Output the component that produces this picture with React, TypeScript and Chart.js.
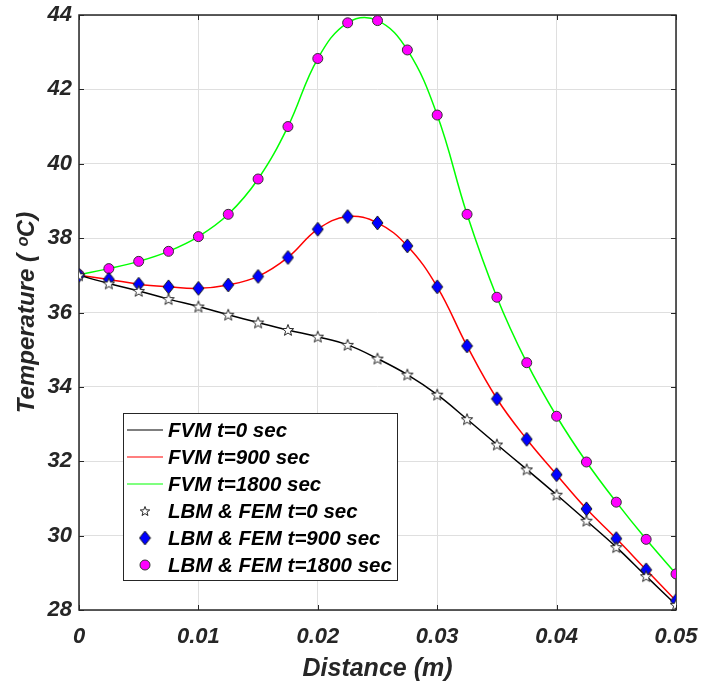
import React, { useEffect, useRef } from 'react';
import { Chart, registerables } from 'chart.js';

Chart.register(...registerables);

// ---------- data ----------
const distance = [
  0, 0.0025, 0.005, 0.0075, 0.01, 0.0125, 0.015, 0.0175, 0.02, 0.0225, 0.025,
  0.0275, 0.03, 0.0325, 0.035, 0.0375, 0.04, 0.0425, 0.045, 0.0475, 0.05,
];
const temp0 = [
  37.0, 36.78, 36.58, 36.36, 36.16, 35.94, 35.73, 35.53, 35.35, 35.13, 34.76,
  34.33, 33.79, 33.13, 32.45, 31.78, 31.1, 30.4, 29.69, 28.91, 28.14,
];
const temp900 = [
  37.0, 36.89, 36.76, 36.69, 36.65, 36.74, 36.97, 37.48, 38.24, 38.58, 38.41,
  37.79, 36.69, 35.1, 33.68, 32.59, 31.64, 30.72, 29.92, 29.08, 28.25,
];
const temp1800 = [
  37.02, 37.18, 37.375, 37.645, 38.04, 38.64, 39.59, 41.0, 42.83, 43.79, 43.85,
  43.06, 41.31, 38.64, 36.41, 34.65, 33.21, 31.98, 30.9, 29.9, 28.97,
];
const seriesLabels = [
  'FVM t=0 sec',
  'FVM t=900 sec',
  'FVM t=1800 sec',
  'LBM & FEM t=0 sec',
  'LBM & FEM t=900 sec',
  'LBM & FEM t=1800 sec',
];
const xTicks = [0, 0.01, 0.02, 0.03, 0.04, 0.05];
const xTickLabels = ['0', '0.01', '0.02', '0.03', '0.04', '0.05'];
const yTicks = [28, 30, 32, 34, 36, 38, 40, 42, 44];
const yTickLabels = ['28', '30', '32', '34', '36', '38', '40', '42', '44'];

const FONT = '"Liberation Sans", Arial, Helvetica, sans-serif';
const AXIS_COLOR = '#262626';

function makeDiamond(): HTMLCanvasElement {
  const c = document.createElement('canvas');
  c.width = 13;
  c.height = 16;
  const g = c.getContext('2d')!;
  g.beginPath();
  g.moveTo(6.5, 1);
  g.lineTo(12, 8);
  g.lineTo(6.5, 15);
  g.lineTo(1, 8);
  g.closePath();
  g.fillStyle = '#0000ff';
  g.fill();
  g.strokeStyle = '#1a1a1a';
  g.lineWidth = 1;
  g.stroke();
  return c;
}

function makeStar(size: number): HTMLCanvasElement {
  const c = document.createElement('canvas');
  c.width = size;
  c.height = size;
  const g = c.getContext('2d')!;
  const cx = size / 2;
  const cy = size / 2 + 0.5;
  const R = size / 2 - 1;
  const r = R * 0.42;
  g.beginPath();
  for (let i = 0; i < 10; i++) {
    const rad = i % 2 === 0 ? R : r;
    const a = -Math.PI / 2 + (i * Math.PI) / 5;
    const px = cx + rad * Math.cos(a);
    const py = cy + rad * Math.sin(a);
    if (i === 0) g.moveTo(px, py);
    else g.lineTo(px, py);
  }
  g.closePath();
  g.fillStyle = '#ffffff';
  g.fill();
  g.strokeStyle = '#262626';
  g.lineWidth = 1;
  g.stroke();
  return c;
}

export default function App() {
  const ref = useRef<HTMLCanvasElement | null>(null);

  useEffect(() => {
    if (!ref.current) return;
    const diamond = makeDiamond();
    const star = makeStar(14);
    const starSmall = makeStar(12);

    const pts = (ys: number[]) => distance.map((x, i) => ({ x, y: ys[i] }));

    const framePlugin = {
      id: 'frame',
      beforeDatasetsDraw(chart: any) {
        const { ctx, chartArea } = chart;
        const { left, right, top, bottom } = chartArea;
        const xs = chart.scales.x;
        const ys = chart.scales.y;
        ctx.save();
        ctx.strokeStyle = AXIS_COLOR;
        ctx.lineWidth = 1;
        const tl = 5;
        xTicks.forEach((v) => {
          const px = Math.round(xs.getPixelForValue(v)) + 0.5;
          ctx.beginPath();
          ctx.moveTo(px, top);
          ctx.lineTo(px, top + tl);
          ctx.moveTo(px, bottom);
          ctx.lineTo(px, bottom - tl);
          ctx.stroke();
        });
        yTicks.forEach((v) => {
          const py = Math.round(ys.getPixelForValue(v)) + 0.5;
          ctx.beginPath();
          ctx.moveTo(left, py);
          ctx.lineTo(left + tl, py);
          ctx.moveTo(right, py);
          ctx.lineTo(right - tl, py);
          ctx.stroke();
        });
        ctx.lineWidth = 1.5;
        ctx.strokeRect(left, top, right - left, bottom - top);
        ctx.restore();
      },
      afterDatasetsDraw(chart: any) {
        const { ctx } = chart;
        const bx = 123;
        const by = 413;
        const bw = 274;
        const bh = 167;
        ctx.save();
        ctx.fillStyle = '#ffffff';
        ctx.fillRect(bx, by, bw, bh);
        ctx.strokeStyle = AXIS_COLOR;
        ctx.lineWidth = 1;
        ctx.strokeRect(bx + 0.5, by + 0.5, bw, bh);
        const lineColors = ['#000000', '#ff0000', '#00ff00'];
        ctx.font = `italic bold 20.5px ${FONT}`;
        ctx.textBaseline = 'middle';
        ctx.textAlign = 'left';
        for (let i = 0; i < 6; i++) {
          const ry = by + 17 + i * 27;
          if (i < 3) {
            ctx.strokeStyle = lineColors[i];
            ctx.lineWidth = 1.2;
            ctx.beginPath();
            ctx.moveTo(bx + 4, ry);
            ctx.lineTo(bx + 40, ry);
            ctx.stroke();
          } else if (i === 3) {
            ctx.drawImage(starSmall, bx + 22 - starSmall.width / 2, ry - starSmall.height / 2);
          } else if (i === 4) {
            ctx.drawImage(diamond, bx + 22 - diamond.width / 2, ry - diamond.height / 2);
          } else {
            ctx.beginPath();
            ctx.arc(bx + 22, ry, 5, 0, Math.PI * 2);
            ctx.fillStyle = '#ff00ff';
            ctx.fill();
            ctx.strokeStyle = '#333333';
            ctx.lineWidth = 1;
            ctx.stroke();
          }
          ctx.fillStyle = '#000000';
          ctx.fillText(seriesLabels[i], bx + 45, ry + 1);
        }
        ctx.restore();
      },
    };

    const lineBase = {
      showLine: true,
      pointRadius: 0,
      borderWidth: 1.5,
      tension: 0.4,
      fill: false,
      order: 2,
    };
    const markerBase = {
      showLine: false,
      order: 1,
    };

    const chart = new Chart(ref.current, {
      type: 'scatter',
      data: {
        datasets: [
          { ...lineBase, label: seriesLabels[0], data: pts(temp0), borderColor: '#000000' },
          { ...lineBase, label: seriesLabels[1], data: pts(temp900), borderColor: '#ff0000' },
          { ...lineBase, label: seriesLabels[2], data: pts(temp1800), borderColor: '#00ff00' },
          {
            ...markerBase,
            label: seriesLabels[3],
            data: pts(temp0),
            pointStyle: star as any,
            pointRadius: 7,
          },
          {
            ...markerBase,
            label: seriesLabels[4],
            data: pts(temp900),
            pointStyle: diamond as any,
            pointRadius: 7,
          },
          {
            ...markerBase,
            label: seriesLabels[5],
            data: pts(temp1800),
            pointStyle: 'circle',
            pointRadius: 5,
            backgroundColor: '#ff00ff',
            borderColor: '#333333',
            borderWidth: 1,
          },
        ],
      },
      options: {
        animation: false,
        responsive: false,
        events: [],
        layout: { padding: { left: 0, top: 15, right: 25, bottom: 0 } },
        plugins: {
          legend: { display: false },
          tooltip: { enabled: false },
        },
        scales: {
          x: {
            type: 'linear',
            min: 0,
            max: 0.05,
            afterBuildTicks: (s: any) => {
              s.ticks = xTicks.map((v) => ({ value: v }));
            },
            afterFit: (s: any) => {
              s.height = 75;
              s.paddingLeft = 0;
              s.paddingRight = 0;
              s.paddingTop = 0;
              s.paddingBottom = 0;
            },
            grid: { color: '#dfdfdf', lineWidth: 1, drawTicks: false },
            border: { display: false },
            ticks: {
              padding: 14,
              maxRotation: 0,
              color: AXIS_COLOR,
              font: { family: FONT, size: 22, style: 'italic', weight: 'bold' },
              callback: (_v: any, i: number) => xTickLabels[i],
            },
            title: {
              display: true,
              text: 'Distance (m)',
              color: AXIS_COLOR,
              font: { family: FONT, size: 25, style: 'italic', weight: 'bold' },
              padding: { top: 1, bottom: 1 },
            },
          },
          y: {
            type: 'linear',
            min: 28,
            max: 44,
            afterBuildTicks: (s: any) => {
              s.ticks = yTicks.map((v) => ({ value: v }));
            },
            afterFit: (s: any) => {
              s.width = 79;
              s.paddingLeft = 0;
              s.paddingRight = 0;
              s.paddingTop = 0;
              s.paddingBottom = 0;
            },
            grid: { color: '#dfdfdf', lineWidth: 1, drawTicks: false },
            border: { display: false },
            ticks: {
              padding: 7,
              color: AXIS_COLOR,
              font: { family: FONT, size: 22, style: 'italic', weight: 'bold' },
              callback: (_v: any, i: number) => yTickLabels[i],
            },
            title: {
              display: true,
              text: 'Temperature ( ᵒC)',
              color: AXIS_COLOR,
              font: { family: FONT, size: 24, style: 'italic', weight: 'bold' },
              padding: { top: 13, bottom: 13 },
            },
          },
        },
      },
      plugins: [framePlugin],
    } as any);

    return () => chart.destroy();
  }, []);

  return (
    <div style={{ position: 'absolute', left: 0, top: 0, width: 701, height: 685, background: '#ffffff' }}>
      <canvas ref={ref} width={701} height={685} style={{ display: 'block' }} />
    </div>
  );
}
